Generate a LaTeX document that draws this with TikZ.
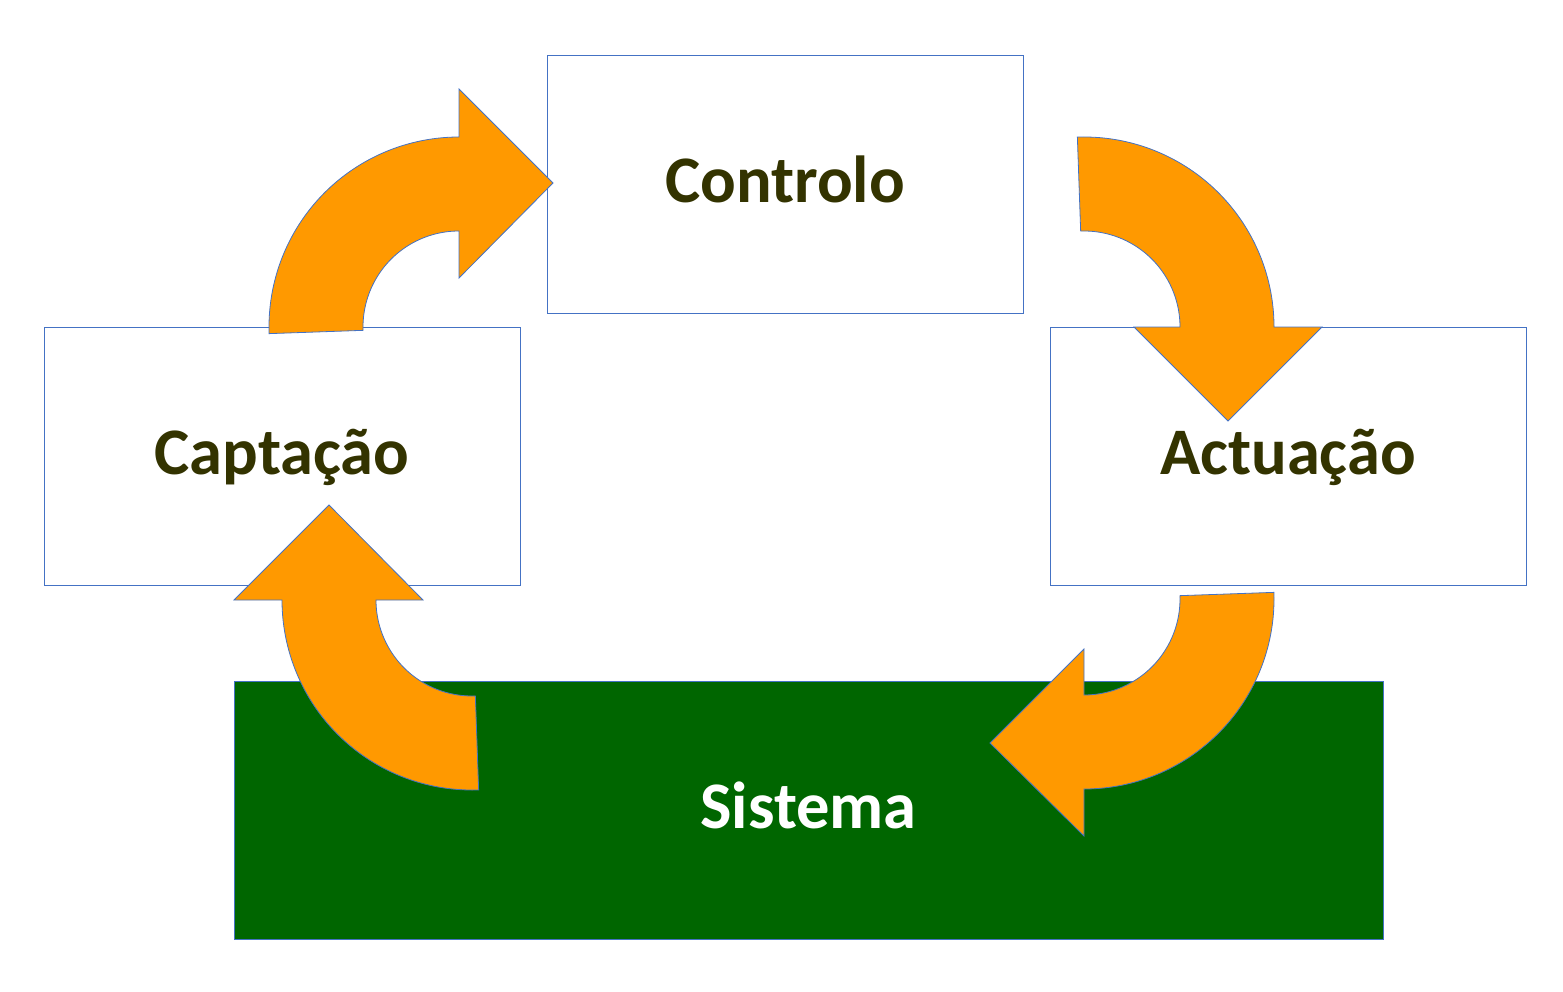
\documentclass[tikz,border=0pt]{standalone}
\usepackage{fontspec}
\setmainfont{Carlito}
\usetikzlibrary{calc}
\definecolor{edgeblue}{HTML}{4472C4}
\definecolor{arroworange}{HTML}{FF9900}
\definecolor{sysgreen}{HTML}{006600}
\definecolor{textolive}{HTML}{333300}
\begin{document}
\begin{tikzpicture}[x=1pt,y=1pt,
  stagebox/.style={draw=edgeblue,line width=1pt,fill=white,minimum width=476pt,minimum height=258pt,inner sep=0pt,
    text height=46pt,text depth=9pt,
    font=\fontsize{66.5}{80}\selectfont\bfseries,text=textolive},
  sysbox/.style={stagebox,fill=sysgreen,minimum width=1149pt,text=white},
  curvearrow/.style={draw=edgeblue,line width=0.8pt,fill=arroworange,line join=miter}]
\useasboundingbox (0,0) rectangle (1563,-992);
\node[stagebox] (ctrl) at (785,-184.5) {Controlo};
\node[stagebox] (capt) at (282,-456) {Captação};
\node[stagebox] (act) at (1288,-456) {Actuação};
\node[sysbox] (sis) at (808.5,-810) {Sistema};
\coordinate (c1) at (459,-327);
\coordinate (c2) at (1084,-327);
\coordinate (c3) at (1084,-599);
\coordinate (c4) at (472,-600);
% Captacao -> Controlo
\draw[curvearrow] ($(c1)+(182:190)$) arc[start angle=182,end angle=90,radius=190]
  -- (459,-89) -- (553,-183) -- (459,-278) -- (459,-231)
  arc[start angle=90,end angle=182,radius=96] -- cycle;
% Controlo -> Actuacao
\draw[curvearrow] ($(c2)+(92:190)$) arc[start angle=92,end angle=0,radius=190]
  -- (1322,-327) -- (1228,-421) -- (1134,-327) -- (1180,-327)
  arc[start angle=0,end angle=92,radius=96] -- cycle;
% Actuacao -> Sistema
\draw[curvearrow] ($(c3)+(2:190)$) arc[start angle=2,end angle=-90,radius=190]
  -- (1084,-836) -- (990,-743) -- (1084,-649) -- (1084,-695)
  arc[start angle=-90,end angle=2,radius=96] -- cycle;
% Sistema -> Captacao
\draw[curvearrow] ($(c4)+(-88:190)$) arc[start angle=-88,end angle=-180,radius=190]
  -- (234,-600) -- (329,-505) -- (423,-600) -- (376,-600)
  arc[start angle=-180,end angle=-88,radius=96] -- cycle;
\end{tikzpicture}
\end{document}
